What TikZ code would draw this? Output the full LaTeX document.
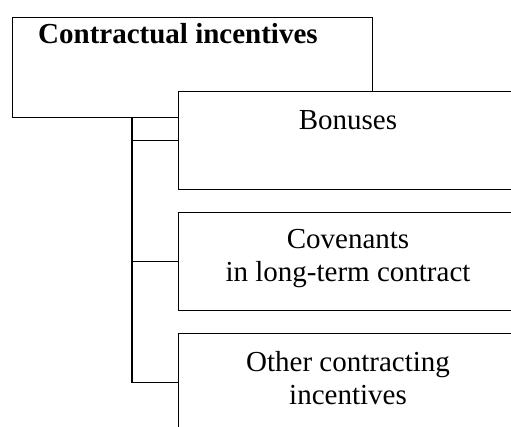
\documentclass[tikz,border=0pt]{standalone}
\usepackage{fontspec}
\setmainfont{Liberation Serif}
\begin{document}
\begin{tikzpicture}[x=1pt,y=-1pt,
  headbox/.style={draw, line width=1.3pt, minimum width=360pt, minimum height=100pt, inner sep=0pt, anchor=north west},
  itembox/.style={draw, fill=white, line width=0.9pt, minimum width=339pt, minimum height=98pt, inner sep=0pt, anchor=north west},
  lbl/.style={font=\fontsize{29}{33}\selectfont, align=center, inner sep=0pt, anchor=base},
  link/.style={line width=1.3pt}]
\useasboundingbox (0,0) rectangle (511,427);
% heading box, partly covered by the first item box
\node[headbox] (top) at (12,17) {};
\node[font=\fontsize{29}{33}\selectfont\bfseries, inner sep=0pt, anchor=base west] (title) at (38,44) {Contractual incentives};
% item boxes
\node[itembox] (bonus) at (178,91) {};
\node[itembox] (cov) at (178,212) {};
\node[itembox] (other) at (178,333) {};
% labels (base anchor sits on the last line)
\node[lbl] (bonustxt) at (348,130) {Bonuses};
\node[lbl] (covtxt) at (348,282) {Covenants\\in long-term contract};
\node[lbl] (othertxt) at (348,404) {Other contracting\\incentives};
% trunk and branches
\coordinate (trunk) at (top.south west -| 132,0);
\draw[link] (trunk) |- (other.west);
\draw[link] (trunk |- bonus.west) -- (bonus.west);
\draw[link] (trunk |- cov.west) -- (cov.west);
\end{tikzpicture}
\end{document}
